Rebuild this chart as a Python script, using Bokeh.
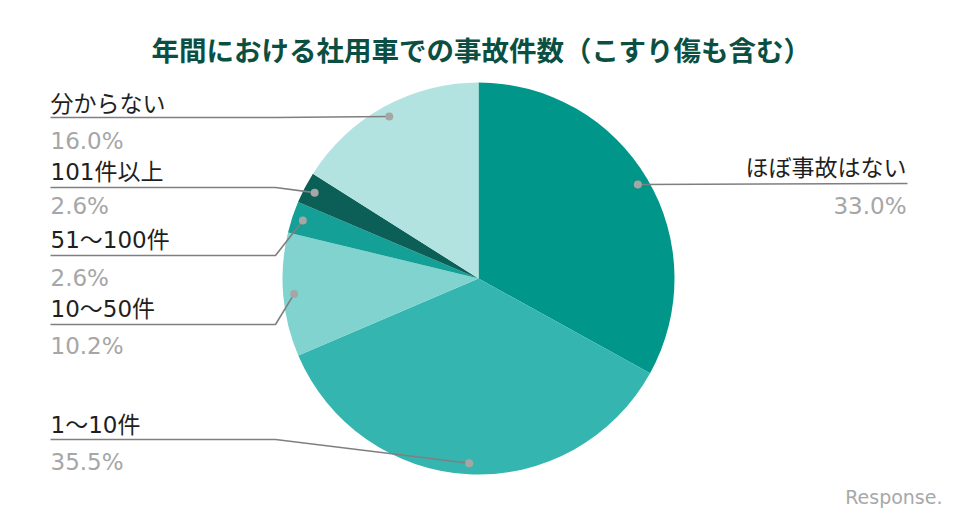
import math
from bokeh.plotting import figure
from bokeh.models import Range1d
from bokeh.embed import file_html
from bokeh.resources import INLINE
from bokeh.core.properties import value

# ---- data ----
title = "年間における社用車での事故件数（こすり傷も含む）"
categories = ["ほぼ事故はない", "1〜10件", "10〜50件", "51〜100件", "101件以上", "分からない"]
values = [33.0, 35.5, 10.2, 2.6, 2.6, 16.0]
colors = ["#00968a", "#35b5b0", "#80d3ce", "#14a096", "#0b5f57", "#b2e3e0"]

# ---- layout (reference pixel coordinates, y measured from top) ----
WIN_W, WIN_H = 963, 519
def Y(y):
    return WIN_H - y

CX, CY, R = 478, Y(278), 196
DOT_R = 185
# per slice: side, label center y, underline y, percent center y
label_layout = [
    ("right", 167, 183, 205),
    ("left", 424, 439, 461),
    ("left", 308, 324, 345),
    ("left", 239, 255, 277),
    ("left", 171, 187, 205),
    ("left", 103, 117, 140),
]
FONT = "DejaVu Sans, Noto Sans CJK JP"

p = figure(width=947, height=511, output_backend="svg", toolbar_location=None,
           x_range=Range1d(0, 947), y_range=Range1d(8, 519), min_border=0)
p.axis.visible = False
p.grid.visible = False
p.outline_line_color = None
p.background_fill_color = "white"
p.border_fill_color = "white"

total = sum(values)
cum = 0.0
for cat, v, col, lay in zip(categories, values, colors, label_layout):
    a0 = math.pi / 2 - 2 * math.pi * cum / total
    a1 = math.pi / 2 - 2 * math.pi * (cum + v) / total
    p.wedge(x=[CX], y=[CY], radius=R, start_angle=[a1], end_angle=[a0],
            direction="anticlock", fill_color=col, line_color=None)
    am = math.pi / 2 - 2 * math.pi * (cum + v / 2) / total
    dx = CX + DOT_R * math.cos(am)
    dy = CY + DOT_R * math.sin(am)
    side, ly, uy, py = lay
    if side == "left":
        p.line(x=[50, 275, dx], y=[Y(uy), Y(uy), dy], line_color="#7f7f7f", line_width=1.6)
        tx, align = 50, "left"
    else:
        p.line(x=[dx, 907], y=[dy, Y(uy)], line_color="#7f7f7f", line_width=1.6)
        tx, align = 906, "right"
    p.scatter(x=[dx], y=[dy], size=8, fill_color="#a6a6a6", line_color=None)
    p.text(x=[tx], y=[Y(ly)], text=[cat], text_align=align, text_baseline="middle",
           text_font=value(FONT), text_font_size="23px", text_color="#1f1f1f")
    p.text(x=[tx], y=[Y(py)], text=[f"{v:.1f}%"], text_align=align, text_baseline="middle",
           text_font=value(FONT), text_font_size="23px", text_color="#a6a6a6")
    cum += v

p.text(x=[481], y=[Y(48)], text=[title], text_align="center", text_baseline="middle",
       text_font=value("Noto Sans CJK JP"), text_font_size="27.5px", text_font_style="bold",
       text_color="#0b4f43")
p.text(x=[942], y=[Y(496)], text=["Response."], text_align="right", text_baseline="middle",
       text_font=value("DejaVu Sans"), text_font_size="19px",
       text_color="#a8a8a8")

open("out.html", "w").write(file_html(p, INLINE))
